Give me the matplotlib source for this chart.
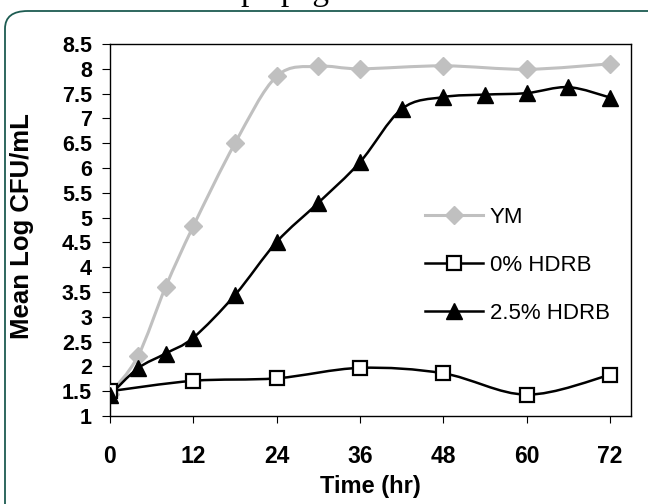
import numpy as np
import matplotlib
matplotlib.use('Agg')
import matplotlib.pyplot as plt
from matplotlib.path import Path
from matplotlib.patches import PathPatch, FancyBboxPatch
from matplotlib.lines import Line2D
from matplotlib.ticker import MultipleLocator, FuncFormatter

plt.rcParams['font.family'] = 'Liberation Sans'

# data
ym_x = [0, 4, 8, 12, 18, 24, 30, 36, 48, 60, 72]
ym_y = [1.45, 2.2, 3.6, 4.83, 6.5, 7.85, 8.05, 8.0, 8.06, 7.99, 8.1]

hdrb0_x = [0, 12, 24, 36, 48, 60, 72]
hdrb0_y = [1.5, 1.71, 1.76, 1.97, 1.86, 1.43, 1.83]

hdrb25_x = [0, 4, 8, 12, 18, 24, 30, 36, 42, 48, 54, 60, 66, 72]
hdrb25_y = [1.42, 1.96, 2.26, 2.58, 3.44, 4.51, 5.3, 6.12, 7.19, 7.43, 7.48, 7.51, 7.63, 7.42]

labels = ['YM', '0% HDRB', '2.5% HDRB']
x_ticks = [0, 12, 24, 36, 48, 60, 72]


def smooth_path(xs, ys):
    # excel style smoothed line: catmull-rom segments as cubic beziers
    p = np.column_stack([xs, ys]).astype(float)
    verts = [p[0]]
    codes = [Path.MOVETO]
    n = len(p)
    for i in range(n - 1):
        p0 = p[i - 1] if i > 0 else p[i]
        p1 = p[i]
        p2 = p[i + 1]
        p3 = p[i + 2] if i + 2 < n else p[i + 1]
        verts += [p1 + (p2 - p0) / 6, p2 - (p3 - p1) / 6, p2]
        codes += [Path.CURVE4] * 3
    return Path(verts, codes)


fig = plt.figure(figsize=(6.48, 5.04), dpi=100)
ax = fig.add_axes([110 / 648, 1 - 416 / 504, 521 / 648, 372 / 504])

gray = '#c0c0c0'
ax.add_patch(PathPatch(smooth_path(ym_x, ym_y), fill=False, ec=gray, lw=2.2, zorder=2))
ax.add_patch(PathPatch(smooth_path(hdrb0_x, hdrb0_y), fill=False, ec='black', lw=1.8, zorder=2))
ax.add_patch(PathPatch(smooth_path(hdrb25_x, hdrb25_y), fill=False, ec='black', lw=1.8, zorder=2))

ax.plot(ym_x, ym_y, ls='none', marker='D', ms=9.5, color=gray, mec=gray, zorder=3)
ax.plot(hdrb0_x, hdrb0_y, ls='none', marker='s', ms=10, mfc='white', mec='black', mew=1.6, zorder=3)
ax.plot(hdrb25_x, hdrb25_y, ls='none', marker='^', ms=11.5, color='black', zorder=4)

ax.set_xlim(0, 75)
ax.set_ylim(1, 8.5)
ax.set_xticks(x_ticks)
ax.yaxis.set_major_locator(MultipleLocator(0.5))
ax.yaxis.set_major_formatter(FuncFormatter(lambda v, pos: f'{v:g}'))
ax.tick_params(axis='y', direction='out', length=6, width=0.8, pad=7, labelsize=15.5)
ax.tick_params(axis='x', direction='out', length=5, width=0.8, pad=16, labelsize=16.5)
for t in ax.get_xticklabels() + ax.get_yticklabels():
    t.set_fontweight('bold')
for s in ax.spines.values():
    s.set_linewidth(1.0)

ax.set_xlabel('Time (hr)', fontsize=17, fontweight='bold', labelpad=5)
ax.set_ylabel('Mean Log CFU/mL', fontsize=18.5, fontweight='bold')
ax.yaxis.set_label_coords(-0.145, 0.51)

handles = [
    Line2D([], [], color=gray, lw=2.2, marker='D', ms=9.5),
    Line2D([], [], color='black', lw=1.8, marker='s', ms=10, mfc='white', mec='black', mew=1.6),
    Line2D([], [], color='black', lw=1.8, marker='^', ms=11.5),
]
ax.legend(handles, labels, loc='center left', bbox_to_anchor=(0.605, 0.405),
          frameon=False, fontsize=16, handlelength=2.6, handletextpad=0.3,
          labelspacing=1.2, borderpad=0, borderaxespad=0)

# page frame and cut-off header from the source page
fig.patches.append(FancyBboxPatch((5 / 648, -0.1), 1.2, 1 - 11 / 504 + 0.1,
                                  boxstyle='round,pad=0,rounding_size=0.035',
                                  transform=fig.transFigure, fill=False,
                                  ec='#1d5c52', lw=1.3, zorder=0))
fig.text(191 / 648, 1.0, 'Scope page', family='Liberation Serif', fontsize=24,
         ha='left', va='baseline')

fig.savefig('out.png', dpi=100)
